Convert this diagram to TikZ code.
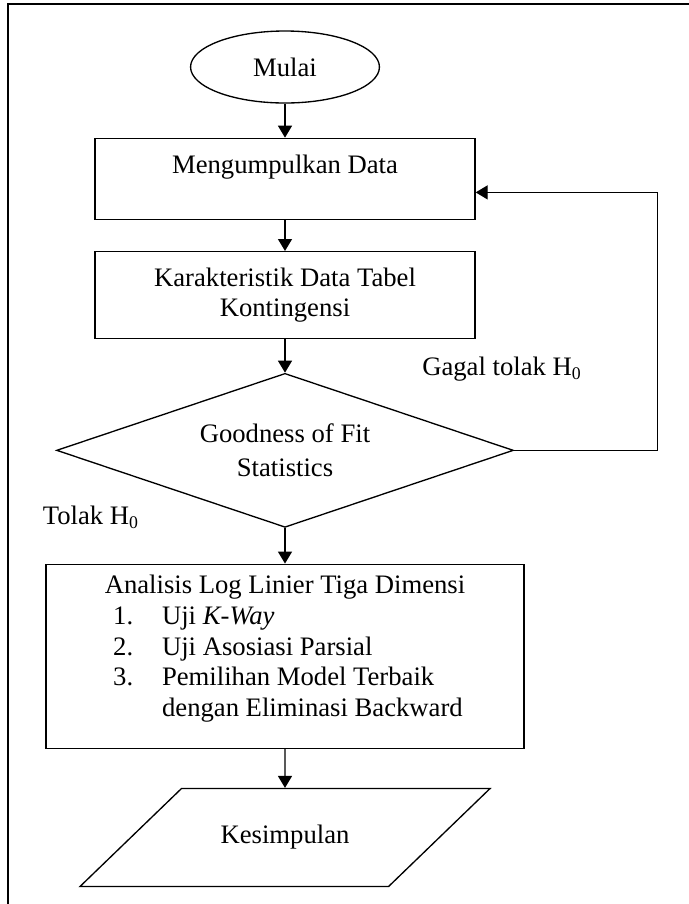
\documentclass[tikz,border=0pt]{standalone}
\usepackage{fontspec}
\setmainfont{Liberation Serif}
\usetikzlibrary{arrows.meta, positioning, calc, shapes.geometric}

\begin{document}
\begin{tikzpicture}[
  x=0.45pt, y=-0.45pt,
  every node/.style={font=\fontsize{12pt}{13.8pt}\selectfont},
  terminal/.style={
    ellipse, draw, line width=0.6pt,
    minimum width=85pt, minimum height=32.4pt, inner sep=0pt
  },
  proc/.style={
    rectangle, draw, line width=0.6pt,
    minimum width=171pt, text centered
  },
  decision/.style={
    diamond, aspect=3, draw, line width=0.6pt, inner sep=0pt,
    minimum width=205.6pt, minimum height=69.3pt, align=center
  },
  io/.style={
    trapezium, trapezium left angle=44, trapezium right angle=136,
    trapezium stretches body=true, draw, line width=0.6pt,
    inner ysep=16.6pt, minimum width=184.5pt
  },
  lbl/.style={inner sep=0pt},
  arr/.style={-{Triangle[length=5.4pt, width=6.3pt]}, line width=0.6pt}
]
  \useasboundingbox (0,0) rectangle (689,904);
  \draw[line width=0.6pt] (8,904) -- (8,4) -- (689,4);

  \node[terminal] (mulai) at (285,67) {Mulai};
  \node[proc, minimum height=36.45pt, text depth=13pt, below=15.3pt of mulai] (kumpul) {Mengumpulkan Data};
  \node[proc, minimum height=39.15pt, align=center, below=13.95pt of kumpul] (karakter) {Karakteristik Data Tabel\\Kontingensi};
  \node[decision, below=15pt of karakter] (dia) {Goodness of Fit\\[1.5pt]Statistics};
  \node[proc, minimum width=215.1pt, minimum height=82.8pt, below=16pt of dia] (loglin) {%
    \begin{tabular}{@{}l@{}}
      \multicolumn{1}{@{}c@{}}{Analisis Log Linier Tiga Dimensi}\\
      \hspace*{3.8pt}\makebox[22pt][l]{1.}Uji \textit{K-Way}\\
      \hspace*{3.8pt}\makebox[22pt][l]{2.}Uji Asosiasi Parsial\\
      \hspace*{3.8pt}\makebox[22pt][l]{3.}Pemilihan Model Terbaik\\
      \hspace*{25.8pt}dengan Eliminasi Backward\\[6.4pt]
    \end{tabular}};
  \node[io, below=17.55pt of loglin] (simpul) {Kesimpulan};

  \node[lbl] (gagal) at ($(dia.east)+(-5.4pt,36.5pt)$) {Gagal tolak H\textsubscript{0}};
  \node[lbl] (tolak) at ($(dia.south)+(-87.3pt,4.95pt)$) {Tolak H\textsubscript{0}};

  \draw[arr] (mulai) -- (kumpul);
  \draw[arr] (kumpul) -- (karakter);
  \draw[arr] (karakter) -- (dia);
  \draw[arr] (dia) -- (loglin);
  \draw[arr] (loglin) -- (simpul);
  \draw[arr] (dia.east) -- ++(64.4pt,0) |- ($(kumpul.east)+(0,-6.1pt)$);
\end{tikzpicture}
\end{document}
